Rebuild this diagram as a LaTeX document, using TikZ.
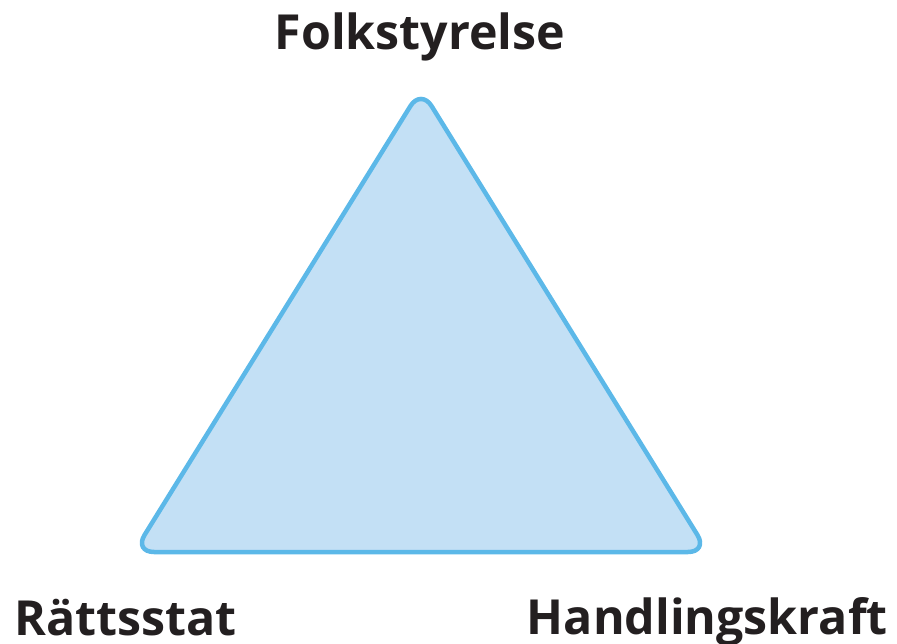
\documentclass[tikz,border=0pt]{standalone}
\usepackage{fontspec}
\setmainfont{Open Sans}
\definecolor{trifill}{HTML}{C3E0F5}
\definecolor{tristroke}{HTML}{5CB8E8}
\definecolor{txt}{HTML}{231F20}
\tikzset{lbl/.style={font=\fontsize{48.5}{54}\selectfont\bfseries, text=txt, inner sep=0pt},
  tri/.style={fill=trifill, draw=tristroke, line width=4.5bp, rounded corners=20bp, line join=round}}
\begin{document}
\begin{tikzpicture}[x=1bp,y=-1bp]
\useasboundingbox (0,0) rectangle (897,644);
\coordinate (apex) at (421,89);
\coordinate (bl) at (134,552);
\coordinate (br) at (708,552);
\draw[tri] (apex) -- (br) -- (bl) -- cycle;
\node[lbl, anchor=base] (f) at (420,50) {Folkstyrelse};
\node[lbl, anchor=base west] (r) at (14,635) {Rättsstat};
\node[lbl, anchor=base east] (h) at (888,634) {Handlingskraft};
\end{tikzpicture}
\end{document}
